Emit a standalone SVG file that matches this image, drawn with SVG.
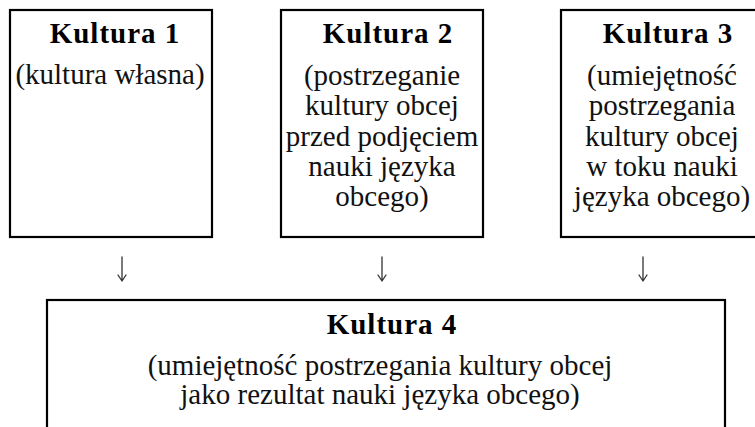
<svg xmlns="http://www.w3.org/2000/svg" width="755" height="427" viewBox="0 0 755 427">
  <style>
    .box { fill: #ffffff; stroke: #000000; stroke-width: 2.2; }
    .title { font-weight: bold; font-size: 29px; letter-spacing: 1px; text-anchor: middle; fill: #000000; }
    .body { font-size: 29px; text-anchor: middle; fill: #111111; }
    .arrow { stroke: #333333; stroke-width: 1.3; fill: none; stroke-linecap: round; stroke-linejoin: round; }
  </style>
  <defs>
    <!-- downward arrow: shaft plus open head, positioned with <use> -->
    <path id="down" class="arrow" d="M0,0 L0,24 M-4,18 L0,24 L4,18"/>
  </defs>
  <rect width="755" height="427" fill="#ffffff"/>

  <g font-family="'Liberation Serif', 'DejaVu Serif', serif">
    <g id="kultura1">
      <rect class="box" x="10" y="10" width="202" height="227"/>
      <text class="title" x="115" y="43">Kultura 1</text>
      <text class="body" x="110" y="84">(kultura własna)</text>
    </g>

    <g id="kultura2">
      <rect class="box" x="281" y="10" width="202" height="227"/>
      <text class="title" x="388" y="43">Kultura 2</text>
      <text class="body" x="382" y="85">(postrzeganie</text>
      <text class="body" x="382" y="115">kultury obcej</text>
      <text class="body" x="382" y="146">przed podjęciem</text>
      <text class="body" x="382" y="176">nauki języka</text>
      <text class="body" x="382" y="206">obcego)</text>
    </g>

    <g id="kultura3">
      <rect class="box" x="561" y="10" width="202" height="227"/>
      <text class="title" x="668" y="43">Kultura 3</text>
      <text class="body" x="662" y="85">(umiejętność</text>
      <text class="body" x="662" y="115">postrzegania</text>
      <text class="body" x="662" y="146">kultury obcej</text>
      <text class="body" x="662" y="176">w toku nauki</text>
      <text class="body" x="662" y="206">języka obcego)</text>
    </g>

    <g id="kultura4">
      <rect class="box" x="47" y="300" width="678" height="140"/>
      <text class="title" x="392" y="334">Kultura 4</text>
      <text class="body" x="380" y="375">(umiejętność postrzegania kultury obcej</text>
      <text class="body" x="380" y="404">jako rezultat nauki języka obcego)</text>
    </g>
  </g>

  <g id="connectors">
    <use href="#down" x="122" y="257"/>
    <use href="#down" x="382" y="257"/>
    <use href="#down" x="643" y="257"/>
  </g>
</svg>
